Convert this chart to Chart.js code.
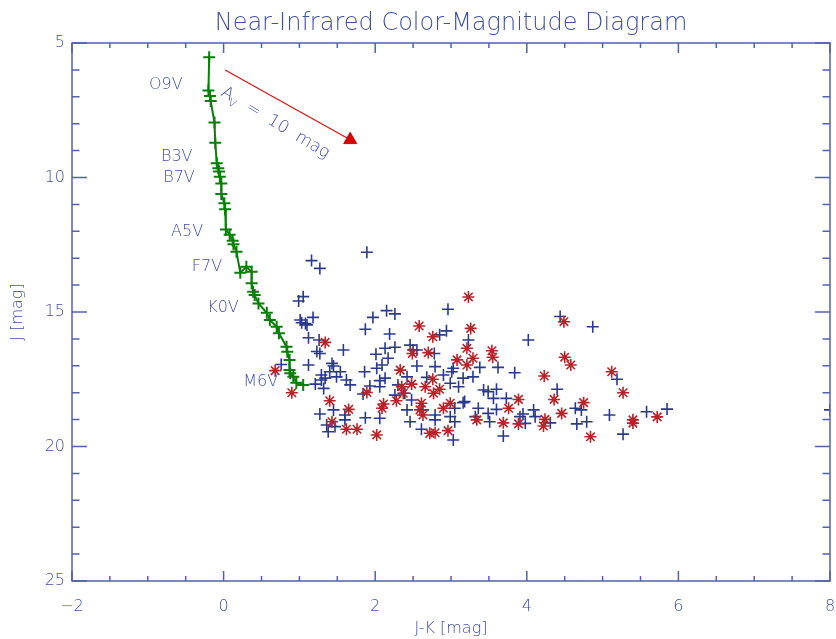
<!DOCTYPE html>
<html><head><meta charset="utf-8">
<script src="https://cdn.jsdelivr.net/npm/chart.js@4.4.1/dist/chart.umd.min.js"></script>
<style>html,body{margin:0;padding:0;background:#fff;} canvas{display:block;}</style>
</head><body>
<canvas id="c" width="836" height="639"></canvas>
<script>
// ---- data (J-K colour [mag], J [mag]) ----
const xTicks = [-2, 0, 2, 4, 6, 8];
const yTicks = [5, 10, 15, 20, 25];
const xMinorStep = 0.5;
const yMinorStep = 1;

const isochrone = [[-0.19,5.53],[-0.20,6.77],[-0.18,6.97],[-0.17,7.16],[-0.12,7.96],[-0.11,8.71],[-0.09,9.47],[-0.07,9.66],[-0.06,9.78],[-0.05,9.97],[-0.03,10.22],[-0.03,10.61],[0.01,10.96],[0.02,11.18],[0.03,11.93],[0.08,12.13],[0.12,12.35],[0.13,12.48],[0.17,12.76],[0.22,13.54],[0.30,13.32],[0.37,13.50],[0.37,13.93],[0.39,14.25],[0.41,14.37],[0.46,14.68],[0.57,15.03],[0.61,15.30],[0.70,15.55],[0.73,15.79],[0.83,16.29],[0.84,16.48],[0.87,16.78],[0.87,17.16],[0.88,17.28],[0.92,17.41],[0.96,17.63],[1.05,17.71]];

const fieldStars = [[1.89,12.78],[1.16,13.09],[1.27,13.38],[1.05,14.43],[0.99,14.59],[2.15,14.95],[2.26,15.07],[2.96,14.90],[1.97,15.20],[1.01,15.30],[1.18,15.20],[1.10,15.48],[1.03,15.40],[1.87,15.64],[2.19,15.82],[2.94,15.70],[1.12,15.96],[1.26,16.04],[1.58,16.41],[2.13,16.35],[2.26,16.31],[2.46,16.23],[2.55,16.41],[1.27,16.54],[2.01,16.57],[2.17,16.72],[1.12,16.97],[1.45,17.01],[2.09,16.97],[2.55,17.01],[2.79,17.03],[3.01,17.22],[1.40,17.22],[1.54,17.22],[1.86,17.22],[2.02,17.09],[1.29,17.34],[1.34,17.46],[1.49,17.41],[1.62,17.53],[1.21,17.68],[1.67,17.71],[2.13,17.46],[2.42,17.41],[2.68,17.43],[3.16,17.46],[1.32,17.84],[1.84,18.05],[2.06,17.78],[2.26,18.09],[2.48,18.27],[3.16,18.37],[1.27,18.79],[1.45,18.64],[1.87,18.93],[2.06,18.95],[2.42,18.64],[2.63,18.64],[2.99,18.89],[1.36,19.20],[1.60,19.01],[2.46,19.08],[2.79,19.01],[1.38,19.45],[2.61,19.36],[3.03,19.76],[1.23,16.47],[1.43,16.91],[1.29,17.53],[0.76,16.95],[1.93,17.75],[2.30,17.71],[2.39,18.02],[1.47,19.26],[2.85,15.85],[2.78,16.54],[3.23,16.04],[4.02,16.04],[3.38,17.06],[3.62,17.06],[3.84,17.26],[2.90,17.34],[3.29,17.41],[2.99,17.65],[3.10,17.78],[3.43,17.90],[3.49,17.96],[3.60,17.87],[3.56,18.21],[3.73,18.21],[2.79,18.83],[3.05,18.58],[3.36,18.58],[3.49,18.77],[3.60,18.62],[3.95,18.79],[3.05,19.08],[3.32,18.89],[3.51,19.08],[3.69,19.61],[4.44,15.17],[4.87,15.55],[5.19,17.50],[4.40,17.87],[4.09,18.64],[4.64,18.58],[4.72,18.64],[4.11,18.89],[3.98,19.14],[4.31,19.12],[4.66,19.16],[4.79,19.08],[5.09,18.83],[5.58,18.71],[5.27,19.54],[3.91,18.89],[5.85,18.61],[8.00,18.64],[2.06,17.55],[1.60,18.83],[3.03,17.09],[3.18,18.33],[2.50,16.41],[1.08,15.43]];

const reddenedStars = [[3.23,14.44],[2.58,15.52],[2.76,15.92],[3.21,16.35],[1.34,16.13],[2.49,16.54],[2.70,16.51],[3.08,16.78],[3.21,16.97],[2.33,17.16],[0.68,17.18],[2.35,17.78],[2.48,17.68],[2.66,17.78],[2.76,17.50],[2.85,17.87],[2.77,18.02],[2.37,18.02],[1.89,17.99],[0.90,18.00],[1.40,18.30],[2.28,18.30],[2.11,18.42],[2.09,18.58],[1.65,18.62],[2.61,18.39],[2.59,18.64],[2.90,18.58],[2.99,18.39],[1.43,19.08],[1.62,19.36],[1.76,19.36],[2.02,19.57],[2.72,19.51],[2.96,19.41],[2.79,19.49],[3.26,15.61],[3.29,16.72],[3.54,16.44],[3.55,16.68],[2.63,18.83],[3.89,18.25],[3.76,18.58],[3.34,19.01],[3.69,19.12],[3.89,19.16],[4.49,15.36],[4.50,16.68],[4.58,16.97],[4.23,17.38],[5.12,17.22],[5.27,18.00],[4.36,18.25],[4.75,18.37],[4.46,18.77],[4.24,18.99],[4.22,19.24],[5.40,19.01],[5.40,19.13],[4.84,19.64],[5.72,18.90]];

const extinctionArrow = [[0.02,6.00],[1.67,8.60]];

const spectralTypes  = ['O9V','B3V','B7V','A5V','F7V','K0V','M6V'];
const spectralLabelJ = [6.56, 9.24, 10.02, 12.03, 13.33, 14.85, 17.60];
const spectralLabelX = [-0.54, -0.41, -0.38, -0.27, -0.02, 0.20, 0.72];

const arrowLabelMain = 'A';
const arrowLabelSub = 'V';
const arrowLabelRest = '  =  10  mag';

// ---- styles ----
const AXIS = '#5261ab';
const TEXT = '#4050a2';
const BLUE = '#2b3a8c';
const RED = '#b8232a';
const GREEN = '#0a7f0a';
const FAM = "'DejaVu Sans', sans-serif";
const W = 200;

const toXY = arr => arr.map(([x, y]) => ({x, y}));

const decorPlugin = {
  id: 'decor',
  afterDraw(chart) {
    const {ctx, chartArea: a, scales: {x, y}} = chart;
    ctx.save();
    ctx.strokeStyle = AXIS;
    ctx.lineWidth = 1.5;
    ctx.beginPath();
    ctx.rect(a.left, a.top, a.right - a.left, a.bottom - a.top);
    ctx.stroke();
    ctx.beginPath();
    const nx = Math.round((x.max - x.min) / xMinorStep);
    for (let i = 0; i <= nx; i++) {
      const v = x.min + i * xMinorStep;
      const px = x.getPixelForValue(v);
      const L = xTicks.some(t => Math.abs(t - v) < 1e-6) ? 10 : 5;
      ctx.moveTo(px, a.bottom); ctx.lineTo(px, a.bottom - L);
      ctx.moveTo(px, a.top); ctx.lineTo(px, a.top + L);
    }
    const ny = Math.round((y.max - y.min) / yMinorStep);
    for (let i = 0; i <= ny; i++) {
      const v = y.min + i * yMinorStep;
      const py = y.getPixelForValue(v);
      const L = yTicks.some(t => Math.abs(t - v) < 1e-6) ? 15 : 7.5;
      ctx.moveTo(a.left, py); ctx.lineTo(a.left + L, py);
      ctx.moveTo(a.right, py); ctx.lineTo(a.right - L, py);
    }
    ctx.stroke();

    // spectral type labels
    ctx.fillStyle = TEXT;
    ctx.font = `${W} 16px ${FAM}`;
    ctx.textAlign = 'right';
    ctx.textBaseline = 'middle';
    spectralTypes.forEach((s, i) => {
      ctx.fillText(s, x.getPixelForValue(spectralLabelX[i]), y.getPixelForValue(spectralLabelJ[i]));
    });

    // extinction label, parallel to the arrow
    const x0 = x.getPixelForValue(extinctionArrow[0][0]);
    const y0 = y.getPixelForValue(extinctionArrow[0][1]);
    const x1 = x.getPixelForValue(extinctionArrow[1][0]);
    const y1 = y.getPixelForValue(extinctionArrow[1][1]);
    const ang = Math.atan2(y1 - y0, x1 - x0);
    const along = 8, perp = 20;
    const sx = x0 + along * Math.cos(ang) - perp * Math.sin(ang);
    const sy = y0 + along * Math.sin(ang) + perp * Math.cos(ang);
    ctx.translate(sx, sy);
    ctx.rotate(ang + 0.03);
    ctx.textAlign = 'left';
    ctx.font = `${W} 17px ${FAM}`;
    ctx.fillText(arrowLabelMain, 0, 0);
    let off = ctx.measureText(arrowLabelMain).width;
    ctx.font = `${W} 11px ${FAM}`;
    ctx.fillText(arrowLabelSub, off - 1, 6);
    off += ctx.measureText(arrowLabelSub).width - 1;
    ctx.font = `${W} 17px ${FAM}`;
    ctx.fillText(arrowLabelRest, off, 0);
    ctx.restore();
  }
};

new Chart(document.getElementById('c'), {
  type: 'scatter',
  data: {
    datasets: [
      {
        label: 'Isochrone', data: toXY(isochrone), showLine: true, tension: 0,
        borderColor: GREEN, borderWidth: 2,
        pointStyle: 'cross', pointRadius: 6, pointBorderWidth: 2,
        pointBorderColor: GREEN, pointBackgroundColor: GREEN
      },
      {
        label: 'Extinction', data: toXY(extinctionArrow), showLine: true,
        borderColor: '#dd1111', borderWidth: 1.2,
        pointStyle: 'triangle',
        pointRadius: c => c.dataIndex === 1 ? 7.5 : 0,
        pointBackgroundColor: '#d40000', pointBorderColor: '#d40000', pointBorderWidth: 1
      },
      {
        label: 'Reddened', data: toXY(reddenedStars),
        pointStyle: 'star', pointRadius: 6, pointBorderWidth: 1.6,
        pointBorderColor: RED, pointBackgroundColor: RED
      },
      {
        label: 'Field', data: toXY(fieldStars),
        pointStyle: 'cross', pointRadius: 6, pointBorderWidth: 1.6,
        pointBorderColor: BLUE, pointBackgroundColor: BLUE
      }
    ]
  },
  options: {
    responsive: false,
    animation: false,
    events: [],
    layout: {autoPadding: false, padding: {left: 0, right: 6, top: 0, bottom: 0}},
    plugins: {
      legend: {display: false},
      tooltip: {enabled: false},
      title: {
        display: true, fullSize: false, text: 'Near-Infrared Color-Magnitude Diagram',
        color: TEXT, font: {family: FAM, size: 24, weight: W},
        padding: {top: 9, bottom: 5.2}
      }
    },
    scales: {
      x: {
        type: 'linear', min: -2, max: 8,
        afterBuildTicks: s => { s.ticks = xTicks.map(v => ({value: v})); },
        ticks: {
          callback: v => String(v).replace('-', '\u2212'),
          color: TEXT, font: {family: FAM, size: 16, weight: W},
          padding: 16, maxRotation: 0, autoSkip: false
        },
        grid: {display: false, drawTicks: false},
        border: {display: false},
        title: {display: true, text: 'J-K [mag]', color: TEXT, font: {family: FAM, size: 16, weight: W}, padding: {top: 0, bottom: 1}},
        afterFit: s => { s.height = 58; s.paddingLeft = 0; s.paddingRight = 0; }
      },
      y: {
        type: 'linear', min: 5, max: 25, reverse: true,
        afterBuildTicks: s => { s.ticks = yTicks.map(v => ({value: v})); },
        ticks: {color: TEXT, font: {family: FAM, size: 16, weight: W}, padding: 7, autoSkip: false},
        grid: {display: false, drawTicks: false},
        border: {display: false},
        title: {display: true, text: 'J [mag]', color: TEXT, font: {family: FAM, size: 16, weight: W}, padding: {top: 8, bottom: 0}},
        afterFit: s => { s.width = 72; s.paddingTop = 0; s.paddingBottom = 0; }
      }
    }
  },
  plugins: [decorPlugin]
});
</script>
</body></html>
